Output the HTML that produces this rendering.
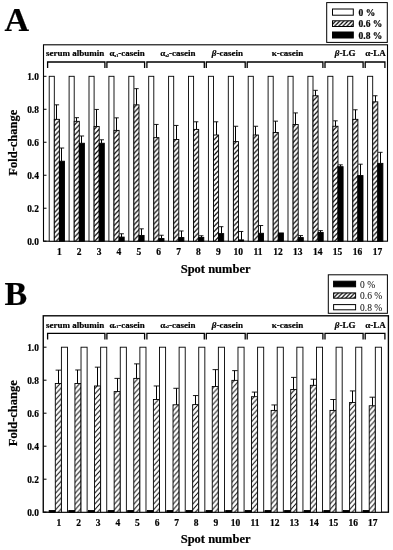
<!DOCTYPE html>
<html><head><meta charset="utf-8"><style>
html,body{margin:0;padding:0;background:#fff;}
svg{display:block;filter:grayscale(1);}
</style></head><body>
<svg width="393" height="550" viewBox="0 0 393 550" font-family='"Liberation Serif", serif' fill="#000">
<style>text{stroke:#000;stroke-width:0.2px;} text.n{stroke:none;}</style>
<rect width="393" height="550" fill="#fff"/>
<defs>
<pattern id="hatchA" patternUnits="userSpaceOnUse" width="4.8" height="5.1"><rect width="4.8" height="5.1" fill="#fff"/><path d="M-4.8 10.2 L9.6 -5.1 M-9.6 10.2 L4.8 -5.1 M-4.8 15.299999999999999 L9.6 0" stroke="#000" stroke-width="1.25" fill="none"/></pattern>
<pattern id="hatchB" patternUnits="userSpaceOnUse" width="4.9" height="5.5"><rect width="4.9" height="5.5" fill="#fff"/><path d="M-4.9 11.0 L9.8 -5.5 M-9.8 11.0 L4.9 -5.5 M-4.9 16.5 L9.8 0" stroke="#000" stroke-width="1.0" fill="none"/></pattern>
<pattern id="hatchL" patternUnits="userSpaceOnUse" width="4.1" height="4.1"><rect width="4.1" height="4.1" fill="#fff"/><path d="M-4.1 8.2 L8.2 -4.1 M-8.2 8.2 L4.1 -4.1 M-4.1 12.299999999999999 L8.2 0" stroke="#000" stroke-width="1.2" fill="none"/></pattern>
</defs>
<rect x="43.5" y="44.8" width="344.0" height="196.39999999999998" fill="none" stroke="#000" stroke-width="1.1"/>
<rect x="49.20" y="76.30" width="5.10" height="164.90" fill="#fff" stroke="#000" stroke-width="0.9"/>
<rect x="54.30" y="119.34" width="5.10" height="121.86" fill="url(#hatchA)" stroke="#000" stroke-width="0.9"/>
<line x1="56.50" y1="119.34" x2="56.50" y2="104.83" stroke="#000" stroke-width="1"/>
<line x1="54.60" y1="104.83" x2="59.10" y2="104.83" stroke="#000" stroke-width="0.9"/>
<rect x="59.40" y="161.22" width="5.10" height="79.98" fill="#000" stroke="#000" stroke-width="0.9"/>
<line x1="61.50" y1="161.22" x2="61.50" y2="148.03" stroke="#000" stroke-width="1"/>
<line x1="59.70" y1="148.03" x2="64.20" y2="148.03" stroke="#000" stroke-width="0.9"/>
<rect x="69.10" y="76.30" width="5.10" height="164.90" fill="#fff" stroke="#000" stroke-width="0.9"/>
<rect x="74.20" y="121.32" width="5.10" height="119.88" fill="url(#hatchA)" stroke="#000" stroke-width="0.9"/>
<line x1="76.50" y1="121.32" x2="76.50" y2="117.69" stroke="#000" stroke-width="1"/>
<line x1="74.50" y1="117.69" x2="79.00" y2="117.69" stroke="#000" stroke-width="0.9"/>
<rect x="79.30" y="143.25" width="5.10" height="97.95" fill="#000" stroke="#000" stroke-width="0.9"/>
<line x1="81.50" y1="143.25" x2="81.50" y2="135.99" stroke="#000" stroke-width="1"/>
<line x1="79.60" y1="135.99" x2="84.10" y2="135.99" stroke="#000" stroke-width="0.9"/>
<rect x="89.00" y="76.30" width="5.10" height="164.90" fill="#fff" stroke="#000" stroke-width="0.9"/>
<rect x="94.10" y="126.43" width="5.10" height="114.77" fill="url(#hatchA)" stroke="#000" stroke-width="0.9"/>
<line x1="96.50" y1="126.43" x2="96.50" y2="109.44" stroke="#000" stroke-width="1"/>
<line x1="94.40" y1="109.44" x2="98.90" y2="109.44" stroke="#000" stroke-width="0.9"/>
<rect x="99.20" y="143.25" width="5.10" height="97.95" fill="#000" stroke="#000" stroke-width="0.9"/>
<line x1="101.50" y1="143.25" x2="101.50" y2="139.79" stroke="#000" stroke-width="1"/>
<line x1="99.50" y1="139.79" x2="104.00" y2="139.79" stroke="#000" stroke-width="0.9"/>
<rect x="108.90" y="76.30" width="5.10" height="164.90" fill="#fff" stroke="#000" stroke-width="0.9"/>
<rect x="114.00" y="130.39" width="5.10" height="110.81" fill="url(#hatchA)" stroke="#000" stroke-width="0.9"/>
<line x1="116.50" y1="130.39" x2="116.50" y2="117.85" stroke="#000" stroke-width="1"/>
<line x1="114.30" y1="117.85" x2="118.80" y2="117.85" stroke="#000" stroke-width="0.9"/>
<rect x="119.10" y="237.08" width="5.10" height="4.12" fill="#000" stroke="#000" stroke-width="0.9"/>
<line x1="121.50" y1="237.08" x2="121.50" y2="233.78" stroke="#000" stroke-width="1"/>
<line x1="119.40" y1="233.78" x2="123.90" y2="233.78" stroke="#000" stroke-width="0.9"/>
<rect x="128.80" y="76.30" width="5.10" height="164.90" fill="#fff" stroke="#000" stroke-width="0.9"/>
<rect x="133.90" y="104.83" width="5.10" height="136.37" fill="url(#hatchA)" stroke="#000" stroke-width="0.9"/>
<line x1="136.50" y1="104.83" x2="136.50" y2="88.67" stroke="#000" stroke-width="1"/>
<line x1="134.20" y1="88.67" x2="138.70" y2="88.67" stroke="#000" stroke-width="0.9"/>
<rect x="139.00" y="235.43" width="5.10" height="5.77" fill="#000" stroke="#000" stroke-width="0.9"/>
<line x1="141.50" y1="235.43" x2="141.50" y2="228.83" stroke="#000" stroke-width="1"/>
<line x1="139.30" y1="228.83" x2="143.80" y2="228.83" stroke="#000" stroke-width="0.9"/>
<rect x="148.70" y="76.30" width="5.10" height="164.90" fill="#fff" stroke="#000" stroke-width="0.9"/>
<rect x="153.80" y="137.64" width="5.10" height="103.56" fill="url(#hatchA)" stroke="#000" stroke-width="0.9"/>
<line x1="156.50" y1="137.64" x2="156.50" y2="124.45" stroke="#000" stroke-width="1"/>
<line x1="154.10" y1="124.45" x2="158.60" y2="124.45" stroke="#000" stroke-width="0.9"/>
<rect x="158.90" y="238.56" width="5.10" height="2.64" fill="#000" stroke="#000" stroke-width="0.9"/>
<line x1="161.50" y1="238.56" x2="161.50" y2="235.26" stroke="#000" stroke-width="1"/>
<line x1="159.20" y1="235.26" x2="163.70" y2="235.26" stroke="#000" stroke-width="0.9"/>
<rect x="168.60" y="76.30" width="5.10" height="164.90" fill="#fff" stroke="#000" stroke-width="0.9"/>
<rect x="173.70" y="139.46" width="5.10" height="101.74" fill="url(#hatchA)" stroke="#000" stroke-width="0.9"/>
<line x1="176.50" y1="139.46" x2="176.50" y2="125.44" stroke="#000" stroke-width="1"/>
<line x1="174.00" y1="125.44" x2="178.50" y2="125.44" stroke="#000" stroke-width="0.9"/>
<rect x="178.80" y="237.57" width="5.10" height="3.63" fill="#000" stroke="#000" stroke-width="0.9"/>
<line x1="181.50" y1="237.57" x2="181.50" y2="230.98" stroke="#000" stroke-width="1"/>
<line x1="179.10" y1="230.98" x2="183.60" y2="230.98" stroke="#000" stroke-width="0.9"/>
<rect x="188.50" y="76.30" width="5.10" height="164.90" fill="#fff" stroke="#000" stroke-width="0.9"/>
<rect x="193.60" y="129.40" width="5.10" height="111.80" fill="url(#hatchA)" stroke="#000" stroke-width="0.9"/>
<line x1="196.50" y1="129.40" x2="196.50" y2="121.81" stroke="#000" stroke-width="1"/>
<line x1="193.90" y1="121.81" x2="198.40" y2="121.81" stroke="#000" stroke-width="0.9"/>
<rect x="198.70" y="237.41" width="5.10" height="3.79" fill="#000" stroke="#000" stroke-width="0.9"/>
<line x1="201.50" y1="237.41" x2="201.50" y2="235.76" stroke="#000" stroke-width="1"/>
<line x1="199.00" y1="235.76" x2="203.50" y2="235.76" stroke="#000" stroke-width="0.9"/>
<rect x="208.40" y="76.30" width="5.10" height="164.90" fill="#fff" stroke="#000" stroke-width="0.9"/>
<rect x="213.50" y="135.00" width="5.10" height="106.20" fill="url(#hatchA)" stroke="#000" stroke-width="0.9"/>
<line x1="216.50" y1="135.00" x2="216.50" y2="121.81" stroke="#000" stroke-width="1"/>
<line x1="213.80" y1="121.81" x2="218.30" y2="121.81" stroke="#000" stroke-width="0.9"/>
<rect x="218.60" y="233.61" width="5.10" height="7.59" fill="#000" stroke="#000" stroke-width="0.9"/>
<line x1="221.50" y1="233.61" x2="221.50" y2="226.69" stroke="#000" stroke-width="1"/>
<line x1="218.90" y1="226.69" x2="223.40" y2="226.69" stroke="#000" stroke-width="0.9"/>
<rect x="228.30" y="76.30" width="5.10" height="164.90" fill="#fff" stroke="#000" stroke-width="0.9"/>
<rect x="233.40" y="141.60" width="5.10" height="99.60" fill="url(#hatchA)" stroke="#000" stroke-width="0.9"/>
<line x1="235.50" y1="141.60" x2="235.50" y2="126.26" stroke="#000" stroke-width="1"/>
<line x1="233.70" y1="126.26" x2="238.20" y2="126.26" stroke="#000" stroke-width="0.9"/>
<rect x="238.50" y="239.88" width="5.10" height="1.32" fill="#000" stroke="#000" stroke-width="0.9"/>
<line x1="241.50" y1="239.88" x2="241.50" y2="231.47" stroke="#000" stroke-width="1"/>
<line x1="238.80" y1="231.47" x2="243.30" y2="231.47" stroke="#000" stroke-width="0.9"/>
<rect x="248.20" y="76.30" width="5.10" height="164.90" fill="#fff" stroke="#000" stroke-width="0.9"/>
<rect x="253.30" y="135.00" width="5.10" height="106.20" fill="url(#hatchA)" stroke="#000" stroke-width="0.9"/>
<line x1="255.50" y1="135.00" x2="255.50" y2="126.26" stroke="#000" stroke-width="1"/>
<line x1="253.60" y1="126.26" x2="258.10" y2="126.26" stroke="#000" stroke-width="0.9"/>
<rect x="258.40" y="233.28" width="5.10" height="7.92" fill="#000" stroke="#000" stroke-width="0.9"/>
<line x1="260.50" y1="233.28" x2="260.50" y2="225.53" stroke="#000" stroke-width="1"/>
<line x1="258.70" y1="225.53" x2="263.20" y2="225.53" stroke="#000" stroke-width="0.9"/>
<rect x="268.10" y="76.30" width="5.10" height="164.90" fill="#fff" stroke="#000" stroke-width="0.9"/>
<rect x="273.20" y="132.53" width="5.10" height="108.67" fill="url(#hatchA)" stroke="#000" stroke-width="0.9"/>
<line x1="275.50" y1="132.53" x2="275.50" y2="121.15" stroke="#000" stroke-width="1"/>
<line x1="273.50" y1="121.15" x2="278.00" y2="121.15" stroke="#000" stroke-width="0.9"/>
<rect x="278.30" y="232.95" width="5.10" height="8.25" fill="#000" stroke="#000" stroke-width="0.9"/>
<rect x="288.00" y="76.30" width="5.10" height="164.90" fill="#fff" stroke="#000" stroke-width="0.9"/>
<rect x="293.10" y="124.45" width="5.10" height="116.75" fill="url(#hatchA)" stroke="#000" stroke-width="0.9"/>
<line x1="295.50" y1="124.45" x2="295.50" y2="112.91" stroke="#000" stroke-width="1"/>
<line x1="293.40" y1="112.91" x2="297.90" y2="112.91" stroke="#000" stroke-width="0.9"/>
<rect x="298.20" y="237.57" width="5.10" height="3.63" fill="#000" stroke="#000" stroke-width="0.9"/>
<line x1="300.50" y1="237.57" x2="300.50" y2="235.59" stroke="#000" stroke-width="1"/>
<line x1="298.50" y1="235.59" x2="303.00" y2="235.59" stroke="#000" stroke-width="0.9"/>
<rect x="307.90" y="76.30" width="5.10" height="164.90" fill="#fff" stroke="#000" stroke-width="0.9"/>
<rect x="313.00" y="95.76" width="5.10" height="145.44" fill="url(#hatchA)" stroke="#000" stroke-width="0.9"/>
<line x1="315.50" y1="95.76" x2="315.50" y2="90.32" stroke="#000" stroke-width="1"/>
<line x1="313.30" y1="90.32" x2="317.80" y2="90.32" stroke="#000" stroke-width="0.9"/>
<rect x="318.10" y="232.46" width="5.10" height="8.74" fill="#000" stroke="#000" stroke-width="0.9"/>
<line x1="320.50" y1="232.46" x2="320.50" y2="230.65" stroke="#000" stroke-width="1"/>
<line x1="318.40" y1="230.65" x2="322.90" y2="230.65" stroke="#000" stroke-width="0.9"/>
<rect x="327.80" y="76.30" width="5.10" height="164.90" fill="#fff" stroke="#000" stroke-width="0.9"/>
<rect x="332.90" y="126.26" width="5.10" height="114.94" fill="url(#hatchA)" stroke="#000" stroke-width="0.9"/>
<line x1="335.50" y1="126.26" x2="335.50" y2="120.82" stroke="#000" stroke-width="1"/>
<line x1="333.20" y1="120.82" x2="337.70" y2="120.82" stroke="#000" stroke-width="0.9"/>
<rect x="338.00" y="166.67" width="5.10" height="74.53" fill="#000" stroke="#000" stroke-width="0.9"/>
<line x1="340.50" y1="166.67" x2="340.50" y2="164.85" stroke="#000" stroke-width="1"/>
<line x1="338.30" y1="164.85" x2="342.80" y2="164.85" stroke="#000" stroke-width="0.9"/>
<rect x="347.70" y="76.30" width="5.10" height="164.90" fill="#fff" stroke="#000" stroke-width="0.9"/>
<rect x="352.80" y="119.34" width="5.10" height="121.86" fill="url(#hatchA)" stroke="#000" stroke-width="0.9"/>
<line x1="355.50" y1="119.34" x2="355.50" y2="109.77" stroke="#000" stroke-width="1"/>
<line x1="353.10" y1="109.77" x2="357.60" y2="109.77" stroke="#000" stroke-width="0.9"/>
<rect x="357.90" y="175.57" width="5.10" height="65.63" fill="#000" stroke="#000" stroke-width="0.9"/>
<line x1="360.50" y1="175.57" x2="360.50" y2="164.19" stroke="#000" stroke-width="1"/>
<line x1="358.20" y1="164.19" x2="362.70" y2="164.19" stroke="#000" stroke-width="0.9"/>
<rect x="367.60" y="76.30" width="5.10" height="164.90" fill="#fff" stroke="#000" stroke-width="0.9"/>
<rect x="372.70" y="101.86" width="5.10" height="139.34" fill="url(#hatchA)" stroke="#000" stroke-width="0.9"/>
<line x1="375.50" y1="101.86" x2="375.50" y2="95.76" stroke="#000" stroke-width="1"/>
<line x1="373.00" y1="95.76" x2="377.50" y2="95.76" stroke="#000" stroke-width="0.9"/>
<rect x="377.80" y="163.37" width="5.10" height="77.83" fill="#000" stroke="#000" stroke-width="0.9"/>
<line x1="380.50" y1="163.37" x2="380.50" y2="152.32" stroke="#000" stroke-width="1"/>
<line x1="378.10" y1="152.32" x2="382.60" y2="152.32" stroke="#000" stroke-width="0.9"/>
<line x1="43.5" y1="241.20" x2="46.5" y2="241.20" stroke="#000" stroke-width="1"/>
<text x="38.9" y="245.00" text-anchor="end" font-size="9.4" font-weight="bold">0.0</text>
<line x1="43.5" y1="208.22" x2="46.5" y2="208.22" stroke="#000" stroke-width="1"/>
<text x="38.9" y="212.02" text-anchor="end" font-size="9.4" font-weight="bold">0.2</text>
<line x1="43.5" y1="175.24" x2="46.5" y2="175.24" stroke="#000" stroke-width="1"/>
<text x="38.9" y="179.04" text-anchor="end" font-size="9.4" font-weight="bold">0.4</text>
<line x1="43.5" y1="142.26" x2="46.5" y2="142.26" stroke="#000" stroke-width="1"/>
<text x="38.9" y="146.06" text-anchor="end" font-size="9.4" font-weight="bold">0.6</text>
<line x1="43.5" y1="109.28" x2="46.5" y2="109.28" stroke="#000" stroke-width="1"/>
<text x="38.9" y="113.08" text-anchor="end" font-size="9.4" font-weight="bold">0.8</text>
<line x1="43.5" y1="76.30" x2="46.5" y2="76.30" stroke="#000" stroke-width="1"/>
<text x="38.9" y="80.10" text-anchor="end" font-size="9.4" font-weight="bold">1.0</text>
<text x="59.30" y="254.80" text-anchor="middle" font-size="9.5" font-weight="bold">1</text>
<text x="79.18" y="254.80" text-anchor="middle" font-size="9.5" font-weight="bold">2</text>
<text x="99.06" y="254.80" text-anchor="middle" font-size="9.5" font-weight="bold">3</text>
<text x="118.94" y="254.80" text-anchor="middle" font-size="9.5" font-weight="bold">4</text>
<text x="138.82" y="254.80" text-anchor="middle" font-size="9.5" font-weight="bold">5</text>
<text x="158.70" y="254.80" text-anchor="middle" font-size="9.5" font-weight="bold">6</text>
<text x="178.58" y="254.80" text-anchor="middle" font-size="9.5" font-weight="bold">7</text>
<text x="198.46" y="254.80" text-anchor="middle" font-size="9.5" font-weight="bold">8</text>
<text x="218.34" y="254.80" text-anchor="middle" font-size="9.5" font-weight="bold">9</text>
<text x="238.22" y="254.80" text-anchor="middle" font-size="9.5" font-weight="bold">10</text>
<text x="258.10" y="254.80" text-anchor="middle" font-size="9.5" font-weight="bold">11</text>
<text x="277.98" y="254.80" text-anchor="middle" font-size="9.5" font-weight="bold">12</text>
<text x="297.86" y="254.80" text-anchor="middle" font-size="9.5" font-weight="bold">13</text>
<text x="317.74" y="254.80" text-anchor="middle" font-size="9.5" font-weight="bold">14</text>
<text x="337.62" y="254.80" text-anchor="middle" font-size="9.5" font-weight="bold">15</text>
<text x="357.50" y="254.80" text-anchor="middle" font-size="9.5" font-weight="bold">16</text>
<text x="377.38" y="254.80" text-anchor="middle" font-size="9.5" font-weight="bold">17</text>
<path d="M47.6 68.0 V62.0 H104.9 V68.0" fill="none" stroke="#000" stroke-width="1.3"/>
<path d="M106.9 68.0 V62.0 H144.6 V68.0" fill="none" stroke="#000" stroke-width="1.3"/>
<path d="M146.9 68.0 V62.0 H204.3 V68.0" fill="none" stroke="#000" stroke-width="1.3"/>
<path d="M206.3 68.0 V62.0 H245.2 V68.0" fill="none" stroke="#000" stroke-width="1.3"/>
<path d="M247.2 68.0 V62.0 H322.9 V68.0" fill="none" stroke="#000" stroke-width="1.3"/>
<path d="M325 68.0 V62.0 H363.1 V68.0" fill="none" stroke="#000" stroke-width="1.3"/>
<path d="M365.2 68.0 V62.0 H384.9 V68.0" fill="none" stroke="#000" stroke-width="1.3"/>
<text x="75.20" y="56.1" text-anchor="middle" font-size="9" font-weight="bold">serum albumin</text>
<text x="127.10" y="56.1" text-anchor="middle" font-size="9" font-weight="bold">α<tspan font-size="4" dy="0.8">s1</tspan><tspan dy="-0.8">-casein</tspan></text>
<text x="177.90" y="56.1" text-anchor="middle" font-size="9" font-weight="bold">α<tspan font-size="4" dy="0.8">s2</tspan><tspan dy="-0.8">-casein</tspan></text>
<text x="227.40" y="56.1" text-anchor="middle" font-size="9" font-weight="bold"><tspan font-style="italic">β</tspan>-casein</text>
<text x="287.40" y="56.1" text-anchor="middle" font-size="9" font-weight="bold">κ-casein</text>
<text x="345.10" y="56.1" text-anchor="middle" font-size="9" font-weight="bold"><tspan font-style="italic">β</tspan>-LG</text>
<text x="375.40" y="56.1" text-anchor="middle" font-size="9" font-weight="bold">α-LA</text>
<text x="215.6" y="273.0" text-anchor="middle" font-size="12.5" font-weight="bold">Spot number</text>
<text transform="translate(16.9 142.7) rotate(-90)" text-anchor="middle" font-size="12.5" font-weight="bold">Fold-change</text>
<text x="4.6" y="30.6" font-size="34" font-weight="bold">A</text>
<rect x="326.7" y="2.6" width="60.60000000000002" height="39.8" fill="#fff" stroke="#000" stroke-width="1"/>
<rect x="332.5" y="9" width="20.80000000000001" height="6.199999999999999" fill="#fff" stroke="#000" stroke-width="1"/>
<text x="358.5" y="15.70" font-size="9.5" font-weight="bold">0 %</text>
<rect x="332.5" y="20.8" width="20.80000000000001" height="5.699999999999999" fill="url(#hatchL)" stroke="#000" stroke-width="1"/>
<text x="358.5" y="27.25" font-size="9.5" font-weight="bold">0.6 %</text>
<rect x="332.5" y="32" width="20.80000000000001" height="6" fill="#000" stroke="#000" stroke-width="1"/>
<text x="358.5" y="38.60" font-size="9.5" font-weight="bold">0.8 %</text>
<rect x="43.25" y="315.8" width="345.15" height="196.40000000000003" fill="none" stroke="#000" stroke-width="1.35"/>
<rect x="49.20" y="510.55" width="6.10" height="1.65" fill="#000" stroke="#000" stroke-width="0.9"/>
<rect x="55.30" y="383.50" width="6.10" height="128.70" fill="url(#hatchB)" stroke="#000" stroke-width="0.9"/>
<line x1="58.50" y1="383.50" x2="58.50" y2="370.14" stroke="#000" stroke-width="1"/>
<line x1="55.60" y1="370.14" x2="61.10" y2="370.14" stroke="#000" stroke-width="0.9"/>
<rect x="61.40" y="347.20" width="6.10" height="165.00" fill="#fff" stroke="#000" stroke-width="0.9"/>
<rect x="68.82" y="510.55" width="6.10" height="1.65" fill="#000" stroke="#000" stroke-width="0.9"/>
<rect x="74.92" y="383.50" width="6.10" height="128.70" fill="url(#hatchB)" stroke="#000" stroke-width="0.9"/>
<line x1="77.50" y1="383.50" x2="77.50" y2="369.97" stroke="#000" stroke-width="1"/>
<line x1="75.22" y1="369.97" x2="80.72" y2="369.97" stroke="#000" stroke-width="0.9"/>
<rect x="81.02" y="347.20" width="6.10" height="165.00" fill="#fff" stroke="#000" stroke-width="0.9"/>
<rect x="88.44" y="510.55" width="6.10" height="1.65" fill="#000" stroke="#000" stroke-width="0.9"/>
<rect x="94.54" y="385.98" width="6.10" height="126.23" fill="url(#hatchB)" stroke="#000" stroke-width="0.9"/>
<line x1="97.50" y1="385.98" x2="97.50" y2="367.17" stroke="#000" stroke-width="1"/>
<line x1="94.84" y1="367.17" x2="100.34" y2="367.17" stroke="#000" stroke-width="0.9"/>
<rect x="100.64" y="347.20" width="6.10" height="165.00" fill="#fff" stroke="#000" stroke-width="0.9"/>
<rect x="108.06" y="510.55" width="6.10" height="1.65" fill="#000" stroke="#000" stroke-width="0.9"/>
<rect x="114.16" y="391.59" width="6.10" height="120.61" fill="url(#hatchB)" stroke="#000" stroke-width="0.9"/>
<line x1="117.50" y1="391.59" x2="117.50" y2="378.39" stroke="#000" stroke-width="1"/>
<line x1="114.46" y1="378.39" x2="119.96" y2="378.39" stroke="#000" stroke-width="0.9"/>
<rect x="120.26" y="347.20" width="6.10" height="165.00" fill="#fff" stroke="#000" stroke-width="0.9"/>
<rect x="127.68" y="510.55" width="6.10" height="1.65" fill="#000" stroke="#000" stroke-width="0.9"/>
<rect x="133.78" y="378.39" width="6.10" height="133.81" fill="url(#hatchB)" stroke="#000" stroke-width="0.9"/>
<line x1="136.50" y1="378.39" x2="136.50" y2="363.87" stroke="#000" stroke-width="1"/>
<line x1="134.08" y1="363.87" x2="139.58" y2="363.87" stroke="#000" stroke-width="0.9"/>
<rect x="139.88" y="347.20" width="6.10" height="165.00" fill="#fff" stroke="#000" stroke-width="0.9"/>
<rect x="147.30" y="510.55" width="6.10" height="1.65" fill="#000" stroke="#000" stroke-width="0.9"/>
<rect x="153.40" y="399.51" width="6.10" height="112.70" fill="url(#hatchB)" stroke="#000" stroke-width="0.9"/>
<line x1="156.50" y1="399.51" x2="156.50" y2="385.98" stroke="#000" stroke-width="1"/>
<line x1="153.70" y1="385.98" x2="159.20" y2="385.98" stroke="#000" stroke-width="0.9"/>
<rect x="159.50" y="347.20" width="6.10" height="165.00" fill="#fff" stroke="#000" stroke-width="0.9"/>
<rect x="166.92" y="510.55" width="6.10" height="1.65" fill="#000" stroke="#000" stroke-width="0.9"/>
<rect x="173.02" y="404.79" width="6.10" height="107.42" fill="url(#hatchB)" stroke="#000" stroke-width="0.9"/>
<line x1="176.50" y1="404.79" x2="176.50" y2="388.29" stroke="#000" stroke-width="1"/>
<line x1="173.32" y1="388.29" x2="178.82" y2="388.29" stroke="#000" stroke-width="0.9"/>
<rect x="179.12" y="347.20" width="6.10" height="165.00" fill="#fff" stroke="#000" stroke-width="0.9"/>
<rect x="186.54" y="510.55" width="6.10" height="1.65" fill="#000" stroke="#000" stroke-width="0.9"/>
<rect x="192.64" y="404.62" width="6.10" height="107.58" fill="url(#hatchB)" stroke="#000" stroke-width="0.9"/>
<line x1="195.50" y1="404.62" x2="195.50" y2="395.55" stroke="#000" stroke-width="1"/>
<line x1="192.94" y1="395.55" x2="198.44" y2="395.55" stroke="#000" stroke-width="0.9"/>
<rect x="198.74" y="347.20" width="6.10" height="165.00" fill="#fff" stroke="#000" stroke-width="0.9"/>
<rect x="206.16" y="510.55" width="6.10" height="1.65" fill="#000" stroke="#000" stroke-width="0.9"/>
<rect x="212.26" y="386.47" width="6.10" height="125.73" fill="url(#hatchB)" stroke="#000" stroke-width="0.9"/>
<line x1="215.50" y1="386.47" x2="215.50" y2="369.64" stroke="#000" stroke-width="1"/>
<line x1="212.56" y1="369.64" x2="218.06" y2="369.64" stroke="#000" stroke-width="0.9"/>
<rect x="218.36" y="347.20" width="6.10" height="165.00" fill="#fff" stroke="#000" stroke-width="0.9"/>
<rect x="225.78" y="510.55" width="6.10" height="1.65" fill="#000" stroke="#000" stroke-width="0.9"/>
<rect x="231.88" y="380.37" width="6.10" height="131.84" fill="url(#hatchB)" stroke="#000" stroke-width="0.9"/>
<line x1="234.50" y1="380.37" x2="234.50" y2="370.63" stroke="#000" stroke-width="1"/>
<line x1="232.18" y1="370.63" x2="237.68" y2="370.63" stroke="#000" stroke-width="0.9"/>
<rect x="237.98" y="347.20" width="6.10" height="165.00" fill="#fff" stroke="#000" stroke-width="0.9"/>
<rect x="245.40" y="510.55" width="6.10" height="1.65" fill="#000" stroke="#000" stroke-width="0.9"/>
<rect x="251.50" y="396.70" width="6.10" height="115.50" fill="url(#hatchB)" stroke="#000" stroke-width="0.9"/>
<line x1="254.50" y1="396.70" x2="254.50" y2="392.08" stroke="#000" stroke-width="1"/>
<line x1="251.80" y1="392.08" x2="257.30" y2="392.08" stroke="#000" stroke-width="0.9"/>
<rect x="257.60" y="347.20" width="6.10" height="165.00" fill="#fff" stroke="#000" stroke-width="0.9"/>
<rect x="265.02" y="510.55" width="6.10" height="1.65" fill="#000" stroke="#000" stroke-width="0.9"/>
<rect x="271.12" y="410.40" width="6.10" height="101.80" fill="url(#hatchB)" stroke="#000" stroke-width="0.9"/>
<line x1="274.50" y1="410.40" x2="274.50" y2="404.95" stroke="#000" stroke-width="1"/>
<line x1="271.42" y1="404.95" x2="276.92" y2="404.95" stroke="#000" stroke-width="0.9"/>
<rect x="277.22" y="347.20" width="6.10" height="165.00" fill="#fff" stroke="#000" stroke-width="0.9"/>
<rect x="284.64" y="510.55" width="6.10" height="1.65" fill="#000" stroke="#000" stroke-width="0.9"/>
<rect x="290.74" y="389.44" width="6.10" height="122.76" fill="url(#hatchB)" stroke="#000" stroke-width="0.9"/>
<line x1="293.50" y1="389.44" x2="293.50" y2="377.40" stroke="#000" stroke-width="1"/>
<line x1="291.04" y1="377.40" x2="296.54" y2="377.40" stroke="#000" stroke-width="0.9"/>
<rect x="296.84" y="347.20" width="6.10" height="165.00" fill="#fff" stroke="#000" stroke-width="0.9"/>
<rect x="304.26" y="510.55" width="6.10" height="1.65" fill="#000" stroke="#000" stroke-width="0.9"/>
<rect x="310.36" y="385.32" width="6.10" height="126.89" fill="url(#hatchB)" stroke="#000" stroke-width="0.9"/>
<line x1="313.50" y1="385.32" x2="313.50" y2="379.21" stroke="#000" stroke-width="1"/>
<line x1="310.66" y1="379.21" x2="316.16" y2="379.21" stroke="#000" stroke-width="0.9"/>
<rect x="316.46" y="347.20" width="6.10" height="165.00" fill="#fff" stroke="#000" stroke-width="0.9"/>
<rect x="323.88" y="510.55" width="6.10" height="1.65" fill="#000" stroke="#000" stroke-width="0.9"/>
<rect x="329.98" y="410.40" width="6.10" height="101.80" fill="url(#hatchB)" stroke="#000" stroke-width="0.9"/>
<line x1="333.50" y1="410.40" x2="333.50" y2="399.51" stroke="#000" stroke-width="1"/>
<line x1="330.28" y1="399.51" x2="335.78" y2="399.51" stroke="#000" stroke-width="0.9"/>
<rect x="336.08" y="347.20" width="6.10" height="165.00" fill="#fff" stroke="#000" stroke-width="0.9"/>
<rect x="343.50" y="510.55" width="6.10" height="1.65" fill="#000" stroke="#000" stroke-width="0.9"/>
<rect x="349.60" y="402.48" width="6.10" height="109.73" fill="url(#hatchB)" stroke="#000" stroke-width="0.9"/>
<line x1="352.50" y1="402.48" x2="352.50" y2="390.93" stroke="#000" stroke-width="1"/>
<line x1="349.90" y1="390.93" x2="355.40" y2="390.93" stroke="#000" stroke-width="0.9"/>
<rect x="355.70" y="347.20" width="6.10" height="165.00" fill="#fff" stroke="#000" stroke-width="0.9"/>
<rect x="363.12" y="510.55" width="6.10" height="1.65" fill="#000" stroke="#000" stroke-width="0.9"/>
<rect x="369.22" y="405.78" width="6.10" height="106.42" fill="url(#hatchB)" stroke="#000" stroke-width="0.9"/>
<line x1="372.50" y1="405.78" x2="372.50" y2="397.20" stroke="#000" stroke-width="1"/>
<line x1="369.52" y1="397.20" x2="375.02" y2="397.20" stroke="#000" stroke-width="0.9"/>
<rect x="375.32" y="347.20" width="6.10" height="165.00" fill="#fff" stroke="#000" stroke-width="0.9"/>
<line x1="43.5" y1="512.20" x2="46.5" y2="512.20" stroke="#000" stroke-width="1"/>
<text x="38.9" y="516.00" text-anchor="end" font-size="9.4" font-weight="bold">0.0</text>
<line x1="43.5" y1="479.20" x2="46.5" y2="479.20" stroke="#000" stroke-width="1"/>
<text x="38.9" y="483.00" text-anchor="end" font-size="9.4" font-weight="bold">0.2</text>
<line x1="43.5" y1="446.20" x2="46.5" y2="446.20" stroke="#000" stroke-width="1"/>
<text x="38.9" y="450.00" text-anchor="end" font-size="9.4" font-weight="bold">0.4</text>
<line x1="43.5" y1="413.20" x2="46.5" y2="413.20" stroke="#000" stroke-width="1"/>
<text x="38.9" y="417.00" text-anchor="end" font-size="9.4" font-weight="bold">0.6</text>
<line x1="43.5" y1="380.20" x2="46.5" y2="380.20" stroke="#000" stroke-width="1"/>
<text x="38.9" y="384.00" text-anchor="end" font-size="9.4" font-weight="bold">0.8</text>
<line x1="43.5" y1="347.20" x2="46.5" y2="347.20" stroke="#000" stroke-width="1"/>
<text x="38.9" y="351.00" text-anchor="end" font-size="9.4" font-weight="bold">1.0</text>
<text x="58.90" y="525.80" text-anchor="middle" font-size="9.5" font-weight="bold">1</text>
<text x="78.52" y="525.80" text-anchor="middle" font-size="9.5" font-weight="bold">2</text>
<text x="98.14" y="525.80" text-anchor="middle" font-size="9.5" font-weight="bold">3</text>
<text x="117.76" y="525.80" text-anchor="middle" font-size="9.5" font-weight="bold">4</text>
<text x="137.38" y="525.80" text-anchor="middle" font-size="9.5" font-weight="bold">5</text>
<text x="157.00" y="525.80" text-anchor="middle" font-size="9.5" font-weight="bold">6</text>
<text x="176.62" y="525.80" text-anchor="middle" font-size="9.5" font-weight="bold">7</text>
<text x="196.24" y="525.80" text-anchor="middle" font-size="9.5" font-weight="bold">8</text>
<text x="215.86" y="525.80" text-anchor="middle" font-size="9.5" font-weight="bold">9</text>
<text x="235.48" y="525.80" text-anchor="middle" font-size="9.5" font-weight="bold">10</text>
<text x="255.10" y="525.80" text-anchor="middle" font-size="9.5" font-weight="bold">11</text>
<text x="274.72" y="525.80" text-anchor="middle" font-size="9.5" font-weight="bold">12</text>
<text x="294.34" y="525.80" text-anchor="middle" font-size="9.5" font-weight="bold">13</text>
<text x="313.96" y="525.80" text-anchor="middle" font-size="9.5" font-weight="bold">14</text>
<text x="333.58" y="525.80" text-anchor="middle" font-size="9.5" font-weight="bold">15</text>
<text x="353.20" y="525.80" text-anchor="middle" font-size="9.5" font-weight="bold">16</text>
<text x="372.82" y="525.80" text-anchor="middle" font-size="9.5" font-weight="bold">17</text>
<path d="M47.6 339.4 V333.4 H104.9 V339.4" fill="none" stroke="#000" stroke-width="1.3"/>
<path d="M106.9 339.4 V333.4 H144.6 V339.4" fill="none" stroke="#000" stroke-width="1.3"/>
<path d="M146.9 339.4 V333.4 H204.3 V339.4" fill="none" stroke="#000" stroke-width="1.3"/>
<path d="M206.3 339.4 V333.4 H245.2 V339.4" fill="none" stroke="#000" stroke-width="1.3"/>
<path d="M247.2 339.4 V333.4 H322.9 V339.4" fill="none" stroke="#000" stroke-width="1.3"/>
<path d="M325 339.4 V333.4 H363.1 V339.4" fill="none" stroke="#000" stroke-width="1.3"/>
<path d="M365.2 339.4 V333.4 H384.9 V339.4" fill="none" stroke="#000" stroke-width="1.3"/>
<text x="75.20" y="327.6" text-anchor="middle" font-size="9" font-weight="bold">serum albumin</text>
<text x="127.10" y="327.6" text-anchor="middle" font-size="9" font-weight="bold">α<tspan font-size="4" dy="0.8">s1</tspan><tspan dy="-0.8">-casein</tspan></text>
<text x="177.90" y="327.6" text-anchor="middle" font-size="9" font-weight="bold">α<tspan font-size="4" dy="0.8">s2</tspan><tspan dy="-0.8">-casein</tspan></text>
<text x="227.40" y="327.6" text-anchor="middle" font-size="9" font-weight="bold"><tspan font-style="italic">β</tspan>-casein</text>
<text x="287.40" y="327.6" text-anchor="middle" font-size="9" font-weight="bold">κ-casein</text>
<text x="345.10" y="327.6" text-anchor="middle" font-size="9" font-weight="bold"><tspan font-style="italic">β</tspan>-LG</text>
<text x="375.40" y="327.6" text-anchor="middle" font-size="9" font-weight="bold">α-LA</text>
<text x="215.6" y="543.2" text-anchor="middle" font-size="12.5" font-weight="bold">Spot number</text>
<text transform="translate(16.6 413.2) rotate(-90)" text-anchor="middle" font-size="12.5" font-weight="bold">Fold-change</text>
<text x="4.6" y="304.8" font-size="34" font-weight="bold">B</text>
<rect x="328.3" y="274.8" width="59.099999999999966" height="38.5" fill="#fff" stroke="#000" stroke-width="1"/>
<rect x="333.6" y="281.2" width="22.0" height="5.600000000000023" fill="#000" stroke="#000" stroke-width="1"/>
<text x="360.0" y="287.60" font-size="9.5" font-weight="normal" class="n">0 %</text>
<rect x="333.6" y="292.9" width="22.0" height="5.300000000000011" fill="url(#hatchL)" stroke="#000" stroke-width="1"/>
<text x="360.0" y="299.15" font-size="9.5" font-weight="normal" class="n">0.6 %</text>
<rect x="333.6" y="304.6" width="22.0" height="5.199999999999989" fill="#fff" stroke="#000" stroke-width="1"/>
<text x="360.0" y="310.80" font-size="9.5" font-weight="normal" class="n">0.8 %</text>
</svg>
</body></html>
